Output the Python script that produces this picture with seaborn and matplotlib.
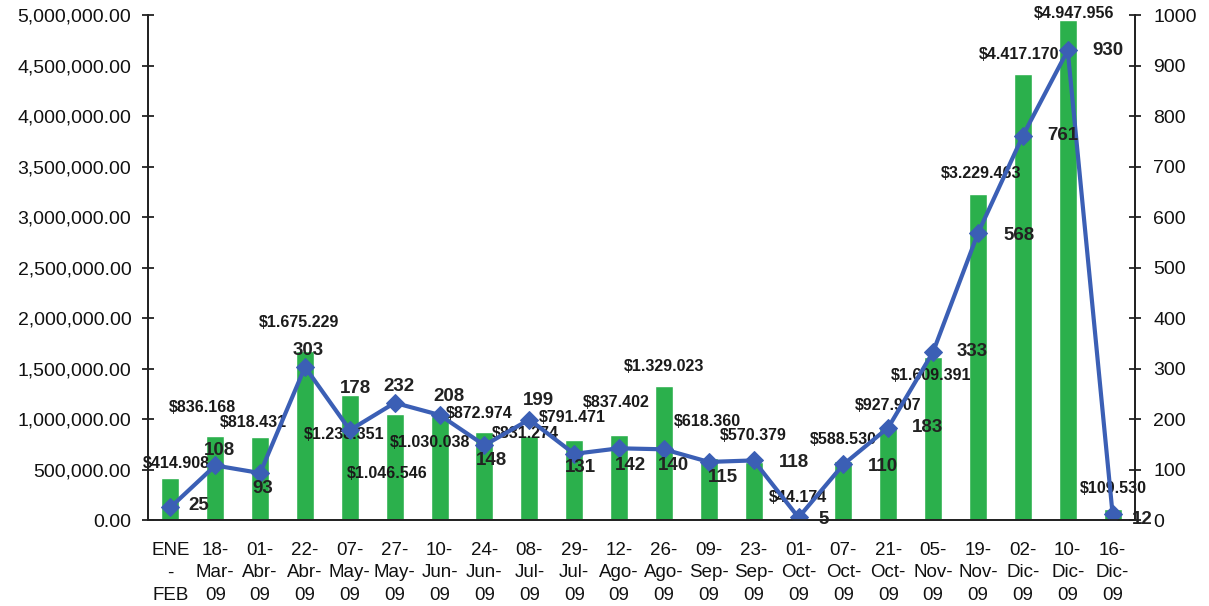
import numpy as np
import pandas as pd
import matplotlib
matplotlib.use("Agg")
import matplotlib.pyplot as plt
from matplotlib.ticker import FuncFormatter, MultipleLocator
import seaborn as sns

# data
fechas = ["ENE\n-\nFEB", "18-\nMar-\n09", "01-\nAbr-\n09", "22-\nAbr-\n09", "07-\nMay-\n09",
          "27-\nMay-\n09", "10-\nJun-\n09", "24-\nJun-\n09", "08-\nJul-\n09", "29-\nJul-\n09",
          "12-\nAgo-\n09", "26-\nAgo-\n09", "09-\nSep-\n09", "23-\nSep-\n09", "01-\nOct-\n09",
          "07-\nOct-\n09", "21-\nOct-\n09", "05-\nNov-\n09", "19-\nNov-\n09", "02-\nDic-\n09",
          "10-\nDic-\n09", "16-\nDic-\n09"]
montos = [414908, 836168, 818431, 1675229, 1238351, 1046546, 1030038, 872974, 831274, 791471,
          837402, 1329023, 618360, 570379, 44174, 588530, 927907, 1609391, 3229463, 4417170,
          4947956, 109530]
cantidad = [25, 108, 93, 303, 178, 232, 208, 148, 199, 131, 142, 140, 115, 118, 5, 110, 183,
            333, 568, 761, 930, 12]

# label offsets (pixels) copied from the original layout
off_montos = [(6, 15), (-13, 28), (-7, 15), (-6, 28), (-6, -40), (-8, -59), (-10, -27), (-5, 18),
              (-4, 3), (-2, 23), (-3, 33), (0, 19), (-1, 36), (0, 27), (-1, 18), (0, 21),
              (0, 21), (-2, -18), (3, 20), (-4, 19), (6, 7), (1, 20)]
off_cant = [(28, 2), (4, 15), (3, -15), (3, 16), (6, 42), (4, 16), (9, 18), (7, -15), (9, 19),
            (6, -14), (11, -17), (10, -16), (14, -16), (40, -2), (25, -2), (40, -2), (39, 0),
            (39, 0), (41, -2), (40, 0), (40, 0), (30, -6)]

df = pd.DataFrame({"fecha": fechas, "monto": montos, "cantidad": cantidad})
df["pos"] = np.arange(len(df))

sns.set_style("white")
plt.rcParams["font.family"] = ["Liberation Sans", "DejaVu Sans"]

fig = plt.figure(figsize=(12.09, 6.06), dpi=100)
ax = fig.add_axes([0.1224, 0.1419, 0.8164, 0.8333])

sns.barplot(data=df, x="fecha", y="monto", color="#2bb04c", saturation=1, width=0.4, ax=ax)
ax.set_xlim(-0.5, len(df) - 0.5)
ax.set_ylim(0, 5000000)
ax.yaxis.set_major_locator(MultipleLocator(500000))
ax.yaxis.set_major_formatter(FuncFormatter(lambda v, p: f"{v:,.2f}"))
ax.set_xlabel("")
ax.set_ylabel("")

ax2 = ax.twinx()
sns.lineplot(data=df, x="pos", y="cantidad", color="#3b5fb5", linewidth=3, marker="D",
             markersize=9, markeredgecolor="#3b5fb5", ax=ax2)
ax2.set_xlim(-0.5, len(df) - 0.5)
ax2.set_ylim(0, 1000)
ax2.yaxis.set_major_locator(MultipleLocator(100))
ax2.set_ylabel("")
ax2.set_xlabel("")

for a in (ax, ax2):
    a.spines["top"].set_visible(False)
    for s in ("left", "right", "bottom"):
        a.spines[s].set_color("#222222")
        a.spines[s].set_linewidth(1.3)

ax.tick_params(axis="y", direction="inout", length=8, width=1.2, pad=8, labelsize=14,
               colors="#111111")
ax2.tick_params(axis="y", direction="inout", length=8, width=1.2, pad=9, labelsize=14,
                colors="#111111")
ax.tick_params(axis="x", which="major", length=0, pad=16, labelsize=13.5, colors="#111111")
ax.set_xticks(df["pos"].to_numpy() + 0.5, minor=True)
ax.tick_params(axis="x", which="minor", direction="inout", length=8, width=1.2)
for t in ax.get_xticklabels():
    t.set_multialignment("center")
    t.set_linespacing(1.4)

for i, (m, (dx, dy)) in enumerate(zip(montos, off_montos)):
    txt = "$" + f"{m:,}".replace(",", ".")
    ax.annotate(txt, xy=(i, m), xytext=(dx, dy), textcoords="offset pixels",
                ha="center", va="center", fontsize=11.5, fontweight="bold", color="#1a1a1a")

for i, (c, (dx, dy)) in enumerate(zip(cantidad, off_cant)):
    ax2.annotate(str(c), xy=(i, c), xytext=(dx, dy), textcoords="offset pixels",
                 ha="center", va="center", fontsize=13.5, fontweight="bold", color="#222222")

fig.savefig("out.png", dpi=100, facecolor="white")
